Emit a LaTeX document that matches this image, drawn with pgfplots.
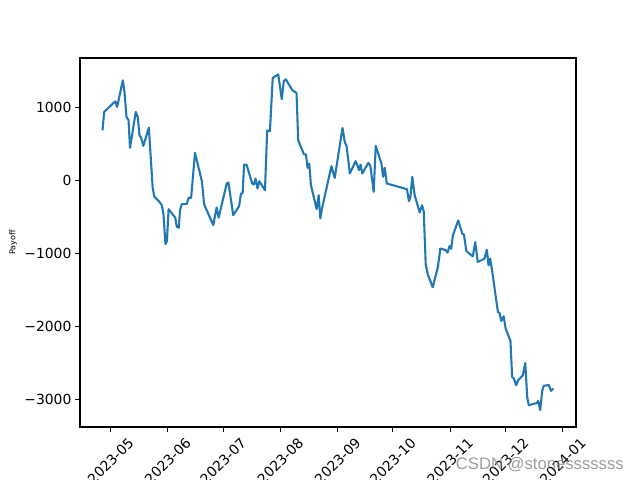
\documentclass[border=0pt]{standalone}
\usepackage{fontspec}
\setmainfont{DejaVu Sans}
\newfontfamily\wmfont{Liberation Sans}
\usepackage{pgfplots}
\pgfplotsset{compat=1.18}
\definecolor{mplblue}{HTML}{1F77B4}
\begin{document}
\begin{tikzpicture}
\path[use as bounding box] (-57.6pt,-38.16pt) rectangle (403.2pt,307.44pt);
\begin{axis}[
  at={(0,0)}, anchor=south west,
  scale only axis, width=357.12pt, height=265.68pt,
  xmin=-16.5, xmax=252.2, ymin=-3370, ymax=1675,
  axis line style={line width=0.8pt},
  tick style={line width=0.8pt, black},
  tick align=outside, major tick length=3.5pt,
  xtick pos=bottom, ytick pos=left,
  minor tick num=0,
  xtick={0,31,61,92,123,153,184,214,245},
  xticklabels={2023-05,2023-06,2023-07,2023-08,2023-09,2023-10,2023-11,2023-12,2024-01},
  ytick={-3000,-2000,-1000,0,1000},
  yticklabels={−3000,−2000,−1000,0,1000},
  xticklabel style={font=\fontsize{10}{12}\selectfont, yshift=-21pt, rotate=45, anchor=center, inner sep=0pt},
  yticklabel style={font=\fontsize{10}{12}\selectfont, anchor=east, inner sep=0pt, xshift=-2.5pt},
  ylabel={Payoff},
  ylabel style={font=\fontsize{5.8}{7}\selectfont, at={(axis description cs:-0.135,0.5)}, anchor=center},
  /pgf/number format/assume math mode=true,
  clip=true,
]
\addplot[mplblue, line width=1.5pt, line join=round] table {
x y
-4.3 687
-3.4 937
1.6 1060
2.7 1083
3.6 1005
6.7 1370
7.6 1210
8.7 869
9.8 823
10.6 446
13.7 937
14.8 869
15.7 619
16.6 587
17.8 473
20.8 723
22.9 -109
23.8 -223
26.5 -291
27.8 -337
28.7 -451
29.8 -869
30.6 -828
31.5 -392
34.0 -473
35.1 -509
35.9 -632
37.0 -646
37.7 -405
38.6 -323
41.3 -323
42.4 -236
43.7 -236
45.8 378
49.6 -18
50.7 -323
55.7 -610
57.5 -369
58.6 -509
63.0 -41
63.9 -27
66.5 -473
69.7 -351
70.7 -177
71.6 -177
72.4 218
73.7 218
76.8 -41
77.7 -55
78.6 27
79.7 -109
80.6 -9
83.7 -132
84.9 683
86.4 674
87.9 1402
90.9 1451
92.8 1110
93.9 1361
95.0 1383
98.6 1233
100.8 1197
101.7 550
104.8 359
105.9 355
106.8 173
107.7 232
108.6 -64
111.7 -392
112.8 -200
113.7 -519
114.8 -360
119.7 196
121.5 36
125.7 719
127.0 519
127.9 473
129.7 96
132.8 264
134.1 187
134.6 141
135.5 218
136.4 96
139.7 241
140.8 200
142.6 -155
143.7 473
146.8 232
147.7 50
148.6 173
149.7 -41
160.6 -118
161.7 -282
162.5 -223
163.5 50
164.8 -200
167.5 -437
168.8 -337
169.7 -419
170.8 -1150
172.0 -1290
174.6 -1460
177.4 -1180
178.7 -930
181.5 -950
182.6 -987
183.7 -895
184.6 -933
185.5 -751
188.4 -546
190.6 -728
191.5 -737
192.8 -965
196.3 -1038
197.6 -842
199.0 -1115
202.6 -1069
203.9 -947
204.8 -1160
205.7 -1069
206.6 -1206
209.9 -1798
210.8 -1812
211.7 -1921
213.0 -1857
214.1 -2025
216.7 -2194
217.6 -2685
218.5 -2707
219.8 -2799
220.9 -2730
223.4 -2662
224.7 -2494
225.8 -2967
226.6 -3072
231.2 -3040
231.7 -3013
232.8 -3140
233.9 -2876
234.7 -2808
237.4 -2795
238.7 -2876
239.9 -2844
};
\end{axis}
\node[anchor=east, inner sep=0pt, text=black!45, opacity=0.85, font=\wmfont\fontsize{12}{14}\selectfont] at (391.7pt,-27.4pt) {CSDN @stonesssssss};
\end{tikzpicture}
\end{document}
